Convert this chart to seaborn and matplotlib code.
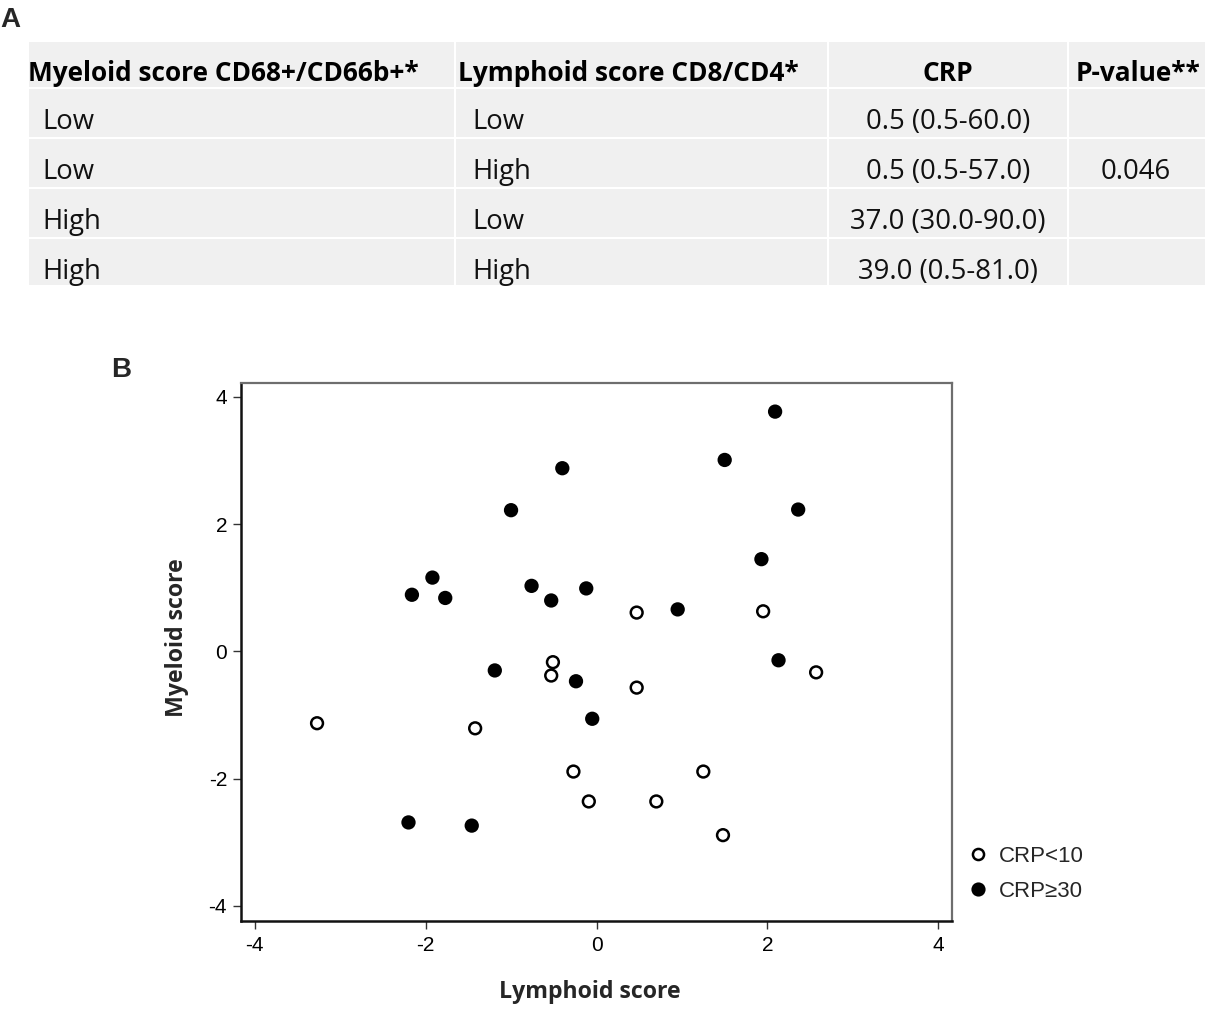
import numpy as np
import pandas as pd
import matplotlib
matplotlib.use("Agg")
import matplotlib.pyplot as plt
from matplotlib.patches import Rectangle
from matplotlib.lines import Line2D
import seaborn as sns

# ---------------- Panel A data ----------------
header = ["Myeloid score CD68+/CD66b+*", "Lymphoid score CD8/CD4*", "CRP", "P-value**"]
myeloid_level = ["Low", "Low", "High", "High"]
lymphoid_level = ["Low", "High", "Low", "High"]
crp_summary = ["0.5 (0.5-60.0)", "0.5 (0.5-57.0)", "37.0 (30.0-90.0)", "39.0 (0.5-81.0)"]
p_value = "0.046"

# ---------------- Panel B data ----------------
low_lymphoid = [0.47, 1.95, -0.51, -0.53, 0.47, 2.57, -3.27, -1.42, -0.27, 1.25, -0.09, 0.70, 1.48]
low_myeloid = [0.61, 0.63, -0.17, -0.38, -0.57, -0.33, -1.13, -1.21, -1.89, -1.89, -2.36, -2.36, -2.89]
high_lymphoid = [2.09, 1.50, -0.40, -1.00, 2.36, 1.93, -1.92, -2.16, -1.77, -0.76, -0.53, -0.12,
                 0.95, 2.13, -1.19, -0.24, -0.05, -2.20, -1.46]
high_myeloid = [3.77, 3.01, 2.88, 2.22, 2.23, 1.45, 1.16, 0.89, 0.84, 1.03, 0.80, 0.99,
                0.66, -0.14, -0.30, -0.47, -1.06, -2.69, -2.74]
group_labels = ["CRP<10", "CRP≥30"]
x_ticks = [-4, -2, 0, 2, 4]
y_ticks = [-4, -2, 0, 2, 4]

df = pd.DataFrame({
    "Lymphoid score": low_lymphoid + high_lymphoid,
    "Myeloid score": low_myeloid + high_myeloid,
    "CRP": [group_labels[0]] * len(low_lymphoid) + [group_labels[1]] * len(high_lymphoid),
})

sns.set_theme(style="white")
plt.rcParams["font.family"] = ["Liberation Sans", "DejaVu Sans"]
ARIAL = ["Liberation Sans", "DejaVu Sans"]
TFONT = "Open Sans"

W, H = 1209, 1014
fig = plt.figure(figsize=(W / 100, H / 100), dpi=100)
fig.patch.set_facecolor("white")
renderer = fig.canvas.get_renderer()


def fit_size(artist, target_px, use_height=False):
    bb = artist.get_window_extent(renderer)
    cur = bb.height if use_height else bb.width
    return artist.get_fontsize() * target_px / cur


# ---------------- Panel A: table ----------------
ax_t = fig.add_axes([0, 0, 1, 1])
ax_t.set_xlim(0, W)
ax_t.set_ylim(H, 0)
ax_t.axis("off")
ax_t.patch.set_alpha(0)

col_edges = [28, 455, 828, 1068, 1206]
row_edges = [41, 88, 138, 188, 238, 286]
cell_color = "#f0f0f0"
for i in range(len(col_edges) - 1):
    for j in range(len(row_edges) - 1):
        x0, x1 = col_edges[i], col_edges[i + 1]
        y0, y1 = row_edges[j], row_edges[j + 1]
        ax_t.add_patch(Rectangle((x0 + 1.2, y0 + 1.2), x1 - x0 - 2.4, y1 - y0 - 2.4,
                                 facecolor=cell_color, edgecolor="none"))

hdr_base = 81
hdr_texts = [
    ax_t.text(28, hdr_base, header[0], ha="left", va="baseline"),
    ax_t.text(458, hdr_base, header[1], ha="left", va="baseline"),
    ax_t.text(948, hdr_base, header[2], ha="center", va="baseline"),
    ax_t.text(1138, hdr_base, header[3], ha="center", va="baseline"),
]
for t in hdr_texts:
    t.set_family(TFONT)
    t.set_fontweight("bold")
    t.set_fontsize(17)
    t.set_color("black")
hsize = fit_size(hdr_texts[0], 392)
for t in hdr_texts:
    t.set_fontsize(hsize)

data_texts = []
for k in range(len(myeloid_level)):
    yb = 129 + 50 * k
    data_texts.append(ax_t.text(42, yb, myeloid_level[k], ha="left", va="baseline"))
    data_texts.append(ax_t.text(472, yb, lymphoid_level[k], ha="left", va="baseline"))
    data_texts.append(ax_t.text(948, yb, crp_summary[k], ha="center", va="baseline"))
data_texts.append(ax_t.text(1136, 179, p_value, ha="center", va="baseline"))
for t in data_texts:
    t.set_family(TFONT)
    t.set_fontsize(17)
    t.set_color("#111111")
dsize = fit_size(data_texts[8], 196)
for t in data_texts:
    t.set_fontsize(dsize)

ax_t.text(0, 27, "A", ha="left", va="baseline", fontsize=20, fontweight="bold", family=ARIAL)
ax_t.text(111, 377, "B", ha="left", va="baseline", fontsize=20, fontweight="bold", family=ARIAL)

# ---------------- Panel B: scatter ----------------
L, R, T, B = 241, 952, 383, 921
ax = fig.add_axes([L / W, 1 - B / H, (R - L) / W, (B - T) / H])
sns.scatterplot(data=df, x="Lymphoid score", y="Myeloid score", hue="CRP",
                palette={group_labels[0]: "white", group_labels[1]: "black"},
                edgecolor="black", linewidth=1.8, s=72, ax=ax, legend=False, zorder=3)

ax.set_xlim(-4.16, 4.16)
ax.set_ylim(-4.24, 4.22)
ax.set_xticks(x_ticks)
ax.set_yticks(y_ticks)
ax.set_xticklabels([str(v) for v in x_ticks])
ax.set_yticklabels([str(v) for v in y_ticks])
ax.tick_params(axis="both", which="major", direction="out", length=5.5, width=1.0,
               color="#333333", labelsize=15, labelcolor="black",
               bottom=True, left=True, top=False, right=False)
ax.tick_params(axis="x", pad=5.5)
ax.tick_params(axis="y", pad=4.5)
for lab in ax.get_xticklabels() + ax.get_yticklabels():
    lab.set_family(ARIAL)

for side in ["left", "bottom"]:
    ax.spines[side].set_color("#111111")
    ax.spines[side].set_linewidth(1.8)
for side in ["top", "right"]:
    ax.spines[side].set_color("#6e6e6e")
    ax.spines[side].set_linewidth(1.6)

ax.set_xlabel("Lymphoid score", fontfamily=TFONT, fontweight="bold", fontsize=16)
ax.set_ylabel("Myeloid score", fontfamily=TFONT, fontweight="bold", fontsize=16)
lsize = fit_size(ax.xaxis.label, 183)
ax.xaxis.label.set_fontsize(lsize)
ax.yaxis.label.set_fontsize(lsize)
ax.xaxis.label.set_va("center")
ax.yaxis.label.set_va("center")
ax.xaxis.set_label_coords((590 - L) / (R - L), (B - 992) / (B - T))
ax.yaxis.set_label_coords((177 - L) / (R - L), (B - 638) / (B - T))

handles = [
    Line2D([0], [0], marker="o", linestyle="none", markerfacecolor="white",
           markeredgecolor="black", markeredgewidth=1.8, markersize=8.0),
    Line2D([0], [0], marker="o", linestyle="none", markerfacecolor="black",
           markeredgecolor="black", markeredgewidth=1.8, markersize=8.4),
]
leg = ax.legend(handles, group_labels, loc="upper left",
                bbox_to_anchor=((967 - L) / (R - L), (B - 846) / (B - T)),
                frameon=False, handlelength=1.0, handletextpad=0.45, labelspacing=0.62,
                borderpad=0, borderaxespad=0,
                prop={"family": ARIAL, "size": 16})

fig.savefig("out.png", dpi=100)
